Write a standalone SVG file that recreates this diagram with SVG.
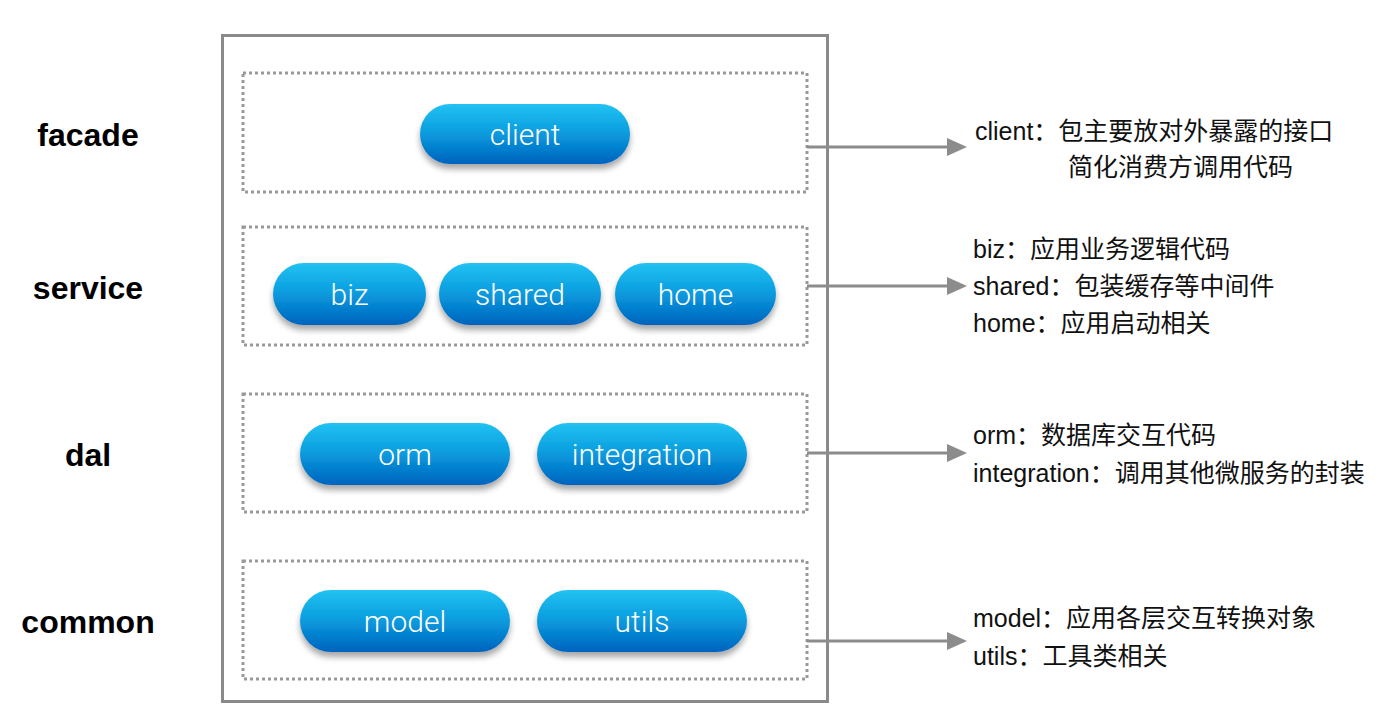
<svg xmlns="http://www.w3.org/2000/svg" width="1400" height="724" viewBox="0 0 1400 724">
<defs>
<linearGradient id="pg" x1="0" y1="0" x2="0" y2="1">
<stop offset="0" stop-color="#22c2f2"/>
<stop offset="0.45" stop-color="#0a9fe0"/>
<stop offset="1" stop-color="#0063be"/>
</linearGradient>
<filter id="sh" x="-20%" y="-30%" width="140%" height="180%">
<feGaussianBlur in="SourceAlpha" stdDeviation="3"/>
<feOffset dy="5" result="b"/>
<feComponentTransfer><feFuncA type="linear" slope="0.35"/></feComponentTransfer>
<feMerge><feMergeNode/><feMergeNode in="SourceGraphic"/></feMerge>
</filter>
<marker id="ah" markerWidth="20" markerHeight="18" refX="0" refY="9" orient="auto" markerUnits="userSpaceOnUse">
<polygon points="0,0 20,9 0,18" fill="#8c8c8c"/>
</marker>
<style>
.outer{fill:none;stroke:#8a8a8c;stroke-width:3}
.dash{fill:none;stroke:#999;stroke-width:3;stroke-dasharray:3 3}
.pill{fill:url(#pg);filter:url(#sh)}
.pt{font-family:Roboto,"Liberation Sans",sans-serif;font-weight:300;font-size:30px;fill:#fff;text-anchor:middle}
.lay{font-family:"Liberation Sans",Arial,sans-serif;font-weight:bold;font-size:32px;fill:#000;text-anchor:middle}
.desc{font-family:"Liberation Sans","Noto Sans CJK SC",sans-serif;font-size:25px;fill:#111}
.conn{stroke:#8c8c8c;stroke-width:3;fill:none;marker-end:url(#ah)}
</style>
</defs>
<rect width="1400" height="724" fill="#fff"/>
<rect class="outer" x="222.500" y="35.500" width="605" height="666"/>
<g id="layer-labels">
<text class="lay" x="88" y="146">facade</text>
<text class="lay" x="88" y="299">service</text>
<text class="lay" x="88" y="466">dal</text>
<text class="lay" x="88" y="633">common</text>
</g>
<g id="facade">
<rect class="dash" x="243" y="73" width="564" height="119"/>
<g id="client"><rect class="pill" x="420" y="104" width="210" height="60" rx="30"/><text class="pt" x="525" y="145">client</text></g>
</g>
<g id="service">
<rect class="dash" x="243" y="227" width="564" height="118"/>
<g id="biz"><rect class="pill" x="273" y="263" width="153" height="62" rx="31"/><text class="pt" x="349.500" y="305">biz</text></g>
<g id="shared"><rect class="pill" x="439" y="263" width="162" height="62" rx="31"/><text class="pt" x="520" y="305">shared</text></g>
<g id="home"><rect class="pill" x="615" y="263" width="161" height="62" rx="31"/><text class="pt" x="695.500" y="305">home</text></g>
</g>
<g id="dal">
<rect class="dash" x="243" y="394" width="564" height="118"/>
<g id="orm"><rect class="pill" x="300" y="423" width="210" height="62" rx="31"/><text class="pt" x="405" y="465">orm</text></g>
<g id="integration"><rect class="pill" x="537" y="423" width="210" height="62" rx="31"/><text class="pt" x="642" y="465">integration</text></g>
</g>
<g id="common">
<rect class="dash" x="243" y="561" width="564" height="118"/>
<g id="model"><rect class="pill" x="300" y="590" width="210" height="62" rx="31"/><text class="pt" x="405" y="632">model</text></g>
<g id="utils"><rect class="pill" x="537" y="590" width="210" height="62" rx="31"/><text class="pt" x="642" y="632">utils</text></g>
</g>
<g id="connectors">
<line class="conn" x1="807" y1="147" x2="947" y2="147"/>
<line class="conn" x1="807" y1="286" x2="947" y2="286"/>
<line class="conn" x1="807" y1="453" x2="947" y2="453"/>
<line class="conn" x1="807" y1="641" x2="947" y2="641"/>
</g>
<g id="descriptions">
<text class="desc" x="975" y="140">client：包主要放对外暴露的接口</text>
<text class="desc" x="1068" y="176">简化消费方调用代码</text>
<text class="desc" x="973" y="258">biz：应用业务逻辑代码</text>
<text class="desc" x="973" y="295">shared：包装缓存等中间件</text>
<text class="desc" x="973" y="332">home：应用启动相关</text>
<text class="desc" x="973" y="444">orm：数据库交互代码</text>
<text class="desc" x="973" y="482">integration：调用其他微服务的封装</text>
<text class="desc" x="973" y="627">model：应用各层交互转换对象</text>
<text class="desc" x="973" y="665">utils：工具类相关</text>
</g>
</svg>
